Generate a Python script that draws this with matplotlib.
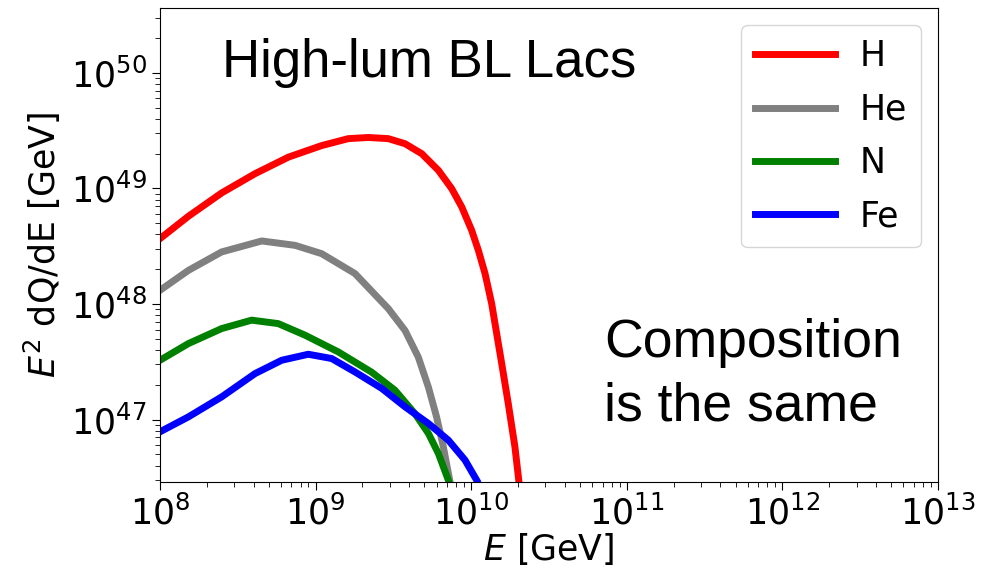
import matplotlib.pyplot as plt
import numpy as np

# log10(E/GeV) and log10(E^2 dQ/dE / GeV)
h_logE = [8.0, 8.182, 8.396, 8.611, 8.825, 9.039, 9.21, 9.339, 9.467, 9.575, 9.682,
          9.789, 9.875, 9.939, 10.003, 10.046, 10.089, 10.132, 10.153, 10.196, 10.238,
          10.281, 10.307]
h_logQ = [48.565, 48.758, 48.96, 49.127, 49.27, 49.37, 49.43, 49.44, 49.43, 49.386, 49.30,
          49.156, 48.997, 48.84, 48.637, 48.464, 48.263, 48.0, 47.83, 47.485, 47.14,
          46.764, 46.46]

he_logE = [8.0, 8.182, 8.396, 8.654, 8.868, 9.039, 9.253, 9.467, 9.575, 9.66, 9.725,
           9.778, 9.821, 9.864]
he_logQ = [48.118, 48.29, 48.45, 48.545, 48.507, 48.435, 48.263, 47.96, 47.77, 47.54,
           47.28, 47.02, 46.764, 46.46]

n_logE = [8.0, 8.182, 8.396, 8.589, 8.76, 8.932, 9.146, 9.36, 9.51, 9.639, 9.725,
          9.789, 9.853]
n_logQ = [47.513, 47.657, 47.787, 47.86, 47.83, 47.73, 47.585, 47.41, 47.254, 47.05,
          46.88, 46.707, 46.476]

fe_logE = [8.0, 8.182, 8.396, 8.611, 8.782, 8.953, 9.103, 9.253, 9.425, 9.575, 9.725,
           9.853, 9.96, 10.035]
fe_logQ = [46.894, 47.023, 47.196, 47.398, 47.513, 47.565, 47.528, 47.412, 47.27, 47.11,
           46.966, 46.822, 46.65, 46.476]

species = ['H', 'He', 'N', 'Fe']
colors = ['red', 'grey', 'green', 'blue']

fig = plt.figure(figsize=(10.04, 5.70), dpi=100)
ax = fig.add_axes([160/1004, 88/570, 778/1004, 474/570])

for lx, ly, lab, c in zip([h_logE, he_logE, n_logE, fe_logE],
                          [h_logQ, he_logQ, n_logQ, fe_logQ], species, colors):
    ax.plot(10**np.array(lx), 10**np.array(ly), color=c, lw=5, label=lab,
            solid_joinstyle='round')

ax.set_xscale('log')
ax.set_yscale('log')
ax.set_xlim(1e8, 1e13)
ax.set_ylim(10**46.46, 10**50.56)
ax.set_yticks([1e47, 1e48, 1e49, 1e50])
ax.tick_params(axis='both', which='major', labelsize=25, length=6)
ax.tick_params(axis='both', which='minor', length=3.5)

ax.set_xlabel(r'$E$ [GeV]', fontsize=25, labelpad=0)
ax.set_ylabel(r'$E^2$ dQ/dE [GeV]', fontsize=25, labelpad=6)

ax.legend(loc='upper right', fontsize=25, handlelength=2.3, labelspacing=0.56,
          handletextpad=0.7, borderaxespad=0.5)

ax.text(0.08, 0.8544, 'High-lum BL Lacs', transform=ax.transAxes, fontsize=38,
        family='Liberation Sans', va='baseline', ha='left')
ax.text(0.571, 0.2637, 'Composition', transform=ax.transAxes, fontsize=38.5,
        family='Liberation Sans', va='baseline', ha='left')
ax.text(0.571, 0.1308, 'is the same', transform=ax.transAxes, fontsize=38.5,
        family='Liberation Sans', va='baseline', ha='left')

fig.savefig('out.png', dpi=100)
